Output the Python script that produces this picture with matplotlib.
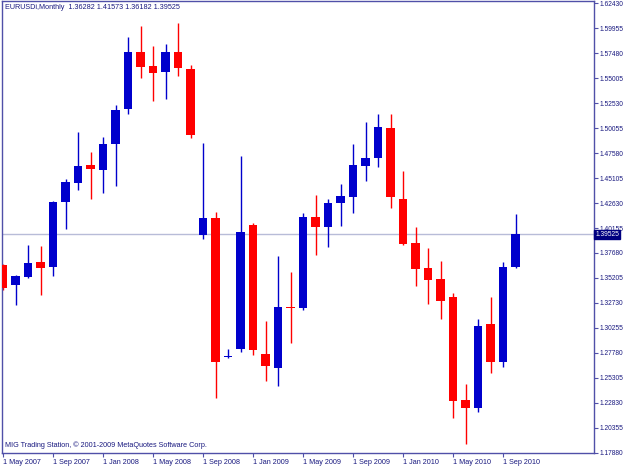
import numpy as np
import matplotlib
matplotlib.use("Agg")
import matplotlib.pyplot as plt

# --- DATA (EURUSD monthly, May 2007 .. Oct 2010) ---
opens = [1.3649, 1.3451, 1.3533, 1.3679, 1.3626, 1.4271, 1.4465, 1.4640, 1.4591, 1.4846,
         1.5193, 1.5764, 1.5625, 1.5565, 1.5758, 1.5592, 1.3946, 1.4112, 1.2740, 1.2813,
         1.4046, 1.2764, 1.2625, 1.3236, 1.3220, 1.4128, 1.4029, 1.4267, 1.4326, 1.4633,
         1.4713, 1.5012, 1.4303, 1.3864, 1.3616, 1.3510, 1.3329, 1.2311, 1.2228, 1.3061,
         1.2684, 1.36282]
highs = [1.3654, 1.3550, 1.3847, 1.3837, 1.4283, 1.4502, 1.4971, 1.4772, 1.4921, 1.5235,
         1.5906, 1.6021, 1.5820, 1.5840, 1.6045, 1.5632, 1.4863, 1.4177, 1.2813, 1.4730,
         1.4062, 1.3094, 1.3738, 1.3583, 1.4168, 1.4343, 1.4300, 1.4449, 1.4846, 1.5062,
         1.5146, 1.5146, 1.4581, 1.4029, 1.3821, 1.3689, 1.3368, 1.2466, 1.3111, 1.3329,
         1.3676, 1.41573]
lows = [1.3401, 1.3252, 1.3520, 1.3352, 1.3543, 1.4006, 1.4393, 1.4300, 1.4366, 1.4435,
        1.5143, 1.5506, 1.5278, 1.5295, 1.5523, 1.4905, 1.3907, 1.2328, 1.2724, 1.2790,
        1.2757, 1.2502, 1.2449, 1.2879, 1.3203, 1.3748, 1.3830, 1.4036, 1.4168, 1.4482,
        1.4624, 1.4211, 1.3847, 1.3444, 1.3262, 1.3111, 1.2135, 1.1871, 1.2189, 1.2581,
        1.2641, 1.36182]
closes = [1.3418, 1.3540, 1.3672, 1.3619, 1.4277, 1.4469, 1.4633, 1.4598, 1.4849, 1.5186,
          1.5764, 1.5615, 1.5549, 1.5758, 1.5599, 1.4938, 1.4112, 1.2690, 1.2750, 1.3973,
          1.2806, 1.2651, 1.3236, 1.3220, 1.4128, 1.4029, 1.4261, 1.4333, 1.4640, 1.4713,
          1.5014, 1.4320, 1.3857, 1.3609, 1.3500, 1.3295, 1.2304, 1.2228, 1.3044, 1.2684,
          1.3626, 1.39525]

date_ticks = [0, 4, 8, 12, 16, 20, 24, 28, 32, 36, 40]
date_labels = ["1 May 2007", "1 Sep 2007", "1 Jan 2008", "1 May 2008", "1 Sep 2008",
               "1 Jan 2009", "1 May 2009", "1 Sep 2009", "1 Jan 2010", "1 May 2010",
               "1 Sep 2010"]
price_ticks = [1.17880 + 0.02475 * k for k in range(19)]

symbol = "EURUSDi,Monthly"
footer = "MIG Trading Station, \u00a9 2001-2009 MetaQuotes Software Corp."

# --- STYLE ---
BULL = "#0000CC"
BEAR = "#FF0000"
FRAME = "#5050A8"
TEXT = "#1A1A80"
plt.rcParams["font.family"] = ["Liberation Sans", "DejaVu Sans"]
FS = 5.2
FS_Y = 4.8

fig = plt.figure(figsize=(6.25, 4.69), dpi=100)
ax = fig.add_axes([2 / 625, 1 - 453 / 469, 592 / 625, 452 / 469])

o = np.array(opens)
h = np.array(highs)
l = np.array(lows)
c = np.array(closes)
x = np.arange(len(o))
colors = np.where(c >= o, BULL, BEAR)

# wicks then bodies
ax.vlines(x, l, h, colors=colors, linewidth=1.0, zorder=2)
body_h = np.maximum(np.abs(c - o), 0.0008)
ax.bar(x, body_h, bottom=np.minimum(o, c), width=0.66, color=colors,
       linewidth=0, zorder=3)

# bid line
last = closes[-1]
ax.axhline(last, color="#B8BCD8", linewidth=1.0, zorder=1)

ax.set_xlim(-0.08, 47.28)
ax.set_ylim(1.17852, 1.62662)

for s in ax.spines.values():
    s.set_color(FRAME)
    s.set_linewidth(1.0)

ax.yaxis.tick_right()
ax.set_yticks(price_ticks)
ax.set_yticklabels([f"{p:.5f}" for p in price_ticks])
ax.set_xticks(date_ticks)
ax.set_xticklabels(date_labels, ha="left")
ax.tick_params(axis="both", colors=FRAME, labelcolor=TEXT, labelsize=FS,
               length=3, width=0.8, pad=1.5)
ax.tick_params(axis="y", labelsize=FS_Y, pad=0.8)

# current price label on the axis
ax.text(1.002, last, f"{last:.5f}", transform=ax.get_yaxis_transform(),
        ha="left", va="center", fontsize=FS_Y, color="white", zorder=10,
        clip_on=False,
        bbox=dict(boxstyle="square,pad=0.2", facecolor="#000080",
                  edgecolor="#000080"))

ax.text(0.005, 0.985, f"{symbol}  {opens[-1]:.5f} {highs[-1]:.5f} "
        f"{lows[-1]:.5f} {closes[-1]:.5f}", transform=ax.transAxes,
        ha="left", va="center", fontsize=FS, color=TEXT)
ax.text(0.005, 0.008, footer, transform=ax.transAxes, ha="left",
        va="bottom", fontsize=FS, color=TEXT)

fig.savefig("out.png", dpi=100, facecolor="white")
